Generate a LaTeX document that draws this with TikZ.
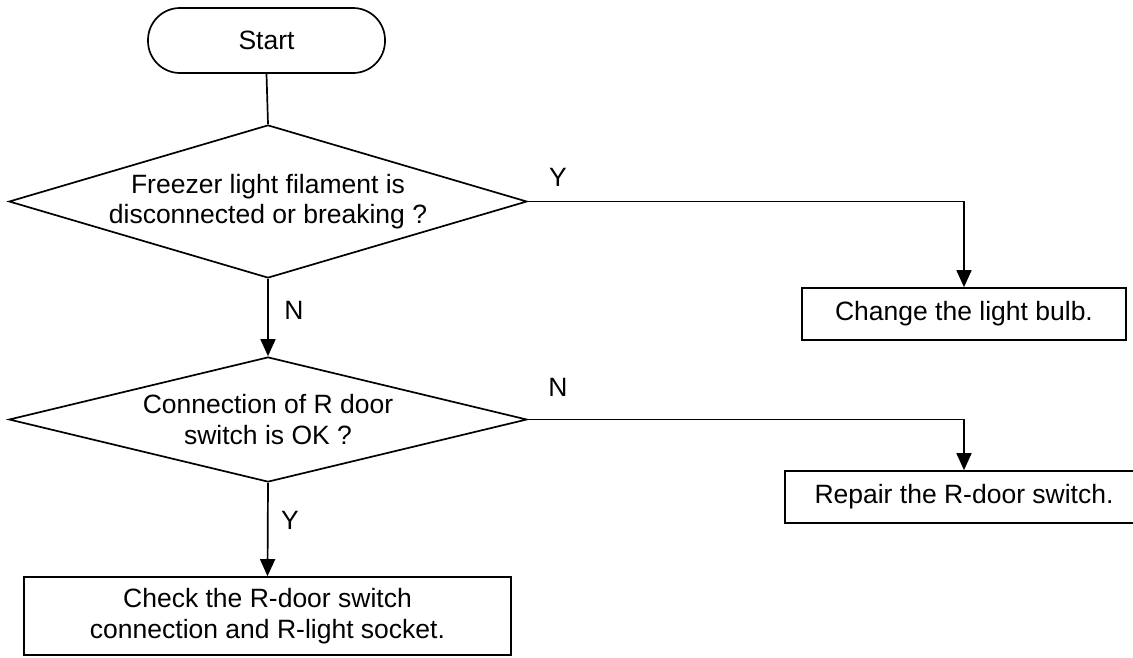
\documentclass[tikz,border=0pt]{standalone}
\usepackage{fontspec}
\setmainfont{Liberation Sans}
\usetikzlibrary{shapes.geometric,arrows.meta}
\begin{document}
\begin{tikzpicture}[x=1pt,y=-1pt,
  every node/.style={font=\fontsize{26.5}{30.5}\selectfont, inner sep=0pt, align=center},
  proc/.style={draw, line width=1.7pt, rectangle},
  decis/.style={draw, line width=1.7pt, diamond, aspect=3.39},
  term/.style={draw, line width=1.7pt, rectangle, rounded corners=32pt},
  conn/.style={line width=1.7pt},
  arr/.style={conn, -{Triangle[width=15pt,length=17pt]}},
  lbl/.style={font=\fontsize{26.5}{30.5}\selectfont}]
\clip (0,0) rectangle (1133,657);
\useasboundingbox (0,0) rectangle (1133,657);
\node[term, minimum width=237pt, minimum height=65pt] (start) at (266.5,40.5) {Start};
\node[decis, minimum width=518pt, minimum height=153pt] (d1) at (268,201.5) {Freezer light filament is\\disconnected or breaking ?};
\node[proc, minimum width=324pt, minimum height=52pt] (b1) at (964,314) {Change the light bulb.};
\node[decis, minimum width=518pt, minimum height=125pt] (d2) at (268,419.5) {Connection of R door\\switch is OK ?};
\node[proc, minimum width=358pt, minimum height=52pt] (b2) at (964,497) {Repair the R-door switch.};
\node[proc, minimum width=487pt, minimum height=78pt] (b3) at (267.5,616) {Check the R-door switch\\connection and R-light socket.};
\coordinate (c1) at (964,201.5);
\coordinate (c2) at (964,419.5);
\draw[conn] (start.south) -- (d1.north);
\draw[arr] (d1.east) -- (c1) -- (b1.north);
\draw[arr] (d1.south) -- (d2.north);
\draw[arr] (d2.east) -- (c2) -- (b2.north);
\draw[arr] (d2.south) -- (b3.north);
\node[lbl] (ly1) at (558,177) {Y};
\node[lbl] (ln1) at (294,310) {N};
\node[lbl] (ln2) at (558,387) {N};
\node[lbl] (ly2) at (290,520) {Y};
\end{tikzpicture}
\end{document}
